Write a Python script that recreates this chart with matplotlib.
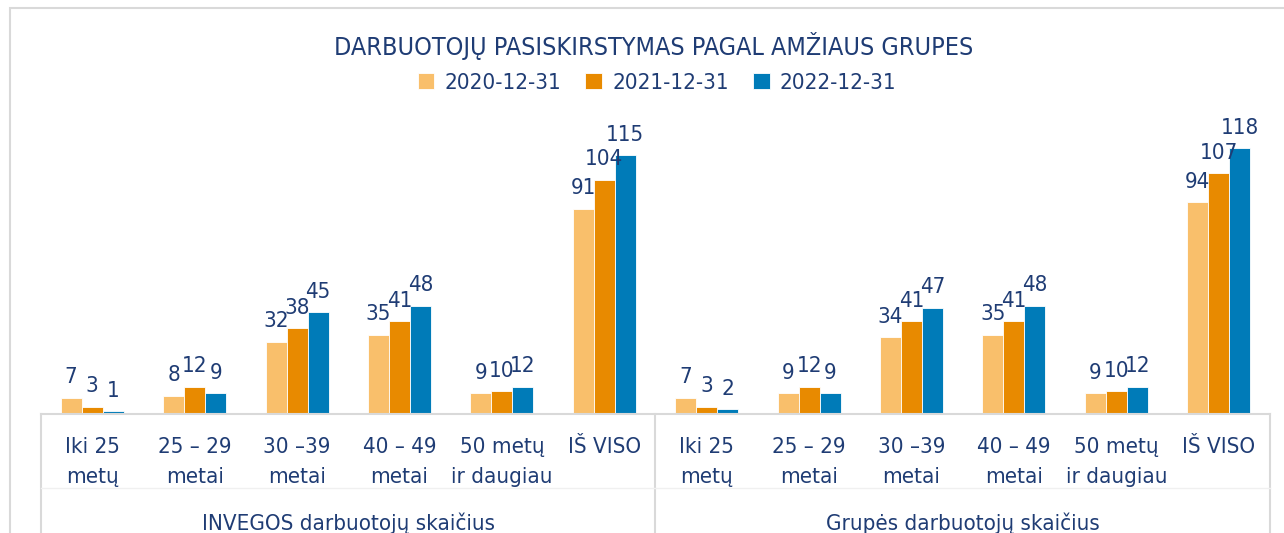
import matplotlib.pyplot as plt
import numpy as np
from matplotlib.lines import Line2D
from matplotlib.patches import Rectangle

# Data
categories = [('Iki 25', 'metų'), ('25 – 29', 'metai'), ('30 –39', 'metai'),
              ('40 – 49', 'metai'), ('50 metų', 'ir daugiau'), ('IŠ VISO', '')]
groups = ['INVEGOS darbuotojų skaičius', 'Grupės darbuotojų skaičius']
years = ['2020-12-31', '2021-12-31', '2022-12-31']

v2020 = [7, 8, 32, 35, 9, 91, 7, 9, 34, 35, 9, 94]
v2021 = [3, 12, 38, 41, 10, 104, 3, 12, 41, 41, 10, 107]
v2022 = [1, 9, 45, 48, 12, 115, 2, 9, 47, 48, 12, 118]

colors = ['#F9BF6B', '#E88A00', '#007BB8']
navy = '#1F3C74'
grey = '#D9D9D9'

plt.rcParams['font.family'] = ['DejaVu Sans']
fstretch = 'condensed'
fs = 16

fig = plt.figure(figsize=(12.84, 5.33), dpi=100)
ax = fig.add_axes([41 / 1284, 119.5 / 533, (1270 - 41) / 1284, 290 / 533])

x = np.arange(len(v2020))
w = 0.205
for i, vals in enumerate([v2020, v2021, v2022]):
    bars = ax.bar(x + (i - 1) * w, vals, width=w, color=colors[i],
                  edgecolor='white', linewidth=0.6, label=years[i])
    for b, v in zip(bars, vals):
        ax.annotate(str(v), (b.get_x() + b.get_width() / 2, v),
                    xytext=(0, 10.4), textcoords='offset points',
                    ha='center', va='baseline', fontsize=fs, color=navy,
                    fontstretch=fstretch)

ax.set_xlim(-0.5, 11.5)
ax.set_ylim(0, 129)
ax.set_xticks([])
ax.set_yticks([])
for s in ['top', 'left', 'right']:
    ax.spines[s].set_visible(False)
ax.spines['bottom'].set_color(grey)
ax.spines['bottom'].set_linewidth(1.5)

# category labels under the axis
trans = ax.get_xaxis_transform()
for g in range(2):
    for j, (l1, l2) in enumerate(categories):
        xi = g * 6 + j
        ax.text(xi, -33.5 / 290, l1, transform=trans, ha='center', va='center',
                fontsize=fs, color=navy, fontstretch=fstretch)
        if l2:
            ax.text(xi, -63.5 / 290, l2, transform=trans, ha='center', va='center',
                    fontsize=fs, color=navy, fontstretch=fstretch)
    ax.text(g * 6 + 2.5, -109.5 / 290, groups[g], transform=trans, ha='center',
            va='center', fontsize=fs, color=navy, fontstretch=fstretch)

# separator lines in the category area
for px in [41, 655, 1270]:
    fig.add_artist(Line2D([px / 1284, px / 1284], [0, 119.5 / 533],
                          color=grey, linewidth=1.5))
fig.add_artist(Line2D([41 / 1284, 1270 / 1284], [45 / 533, 45 / 533],
                      color='#F0F0F0', linewidth=1))

# outer chart frame
fig.add_artist(Rectangle((10 / 1284, -0.1), 1.2, 1 - 8 / 533 + 0.1,
                         transform=fig.transFigure, fill=False,
                         edgecolor=grey, linewidth=1.5))

fig.text(654 / 1284, 1 - 46 / 533, 'DARBUOTOJŲ PASISKIRSTYMAS PAGAL AMŽIAUS GRUPES',
         ha='center', va='center', fontsize=18, color=navy,
         fontstretch=fstretch)

fig.legend(loc='center', bbox_to_anchor=(657 / 1284, 1 - 83 / 533), ncol=3,
           frameon=False, handlelength=0.75, handleheight=0.75,
           handletextpad=0.45, columnspacing=1.1,
           prop={'size': fs, 'stretch': fstretch}, labelcolor=navy)

fig.savefig('out.png', dpi=100)
